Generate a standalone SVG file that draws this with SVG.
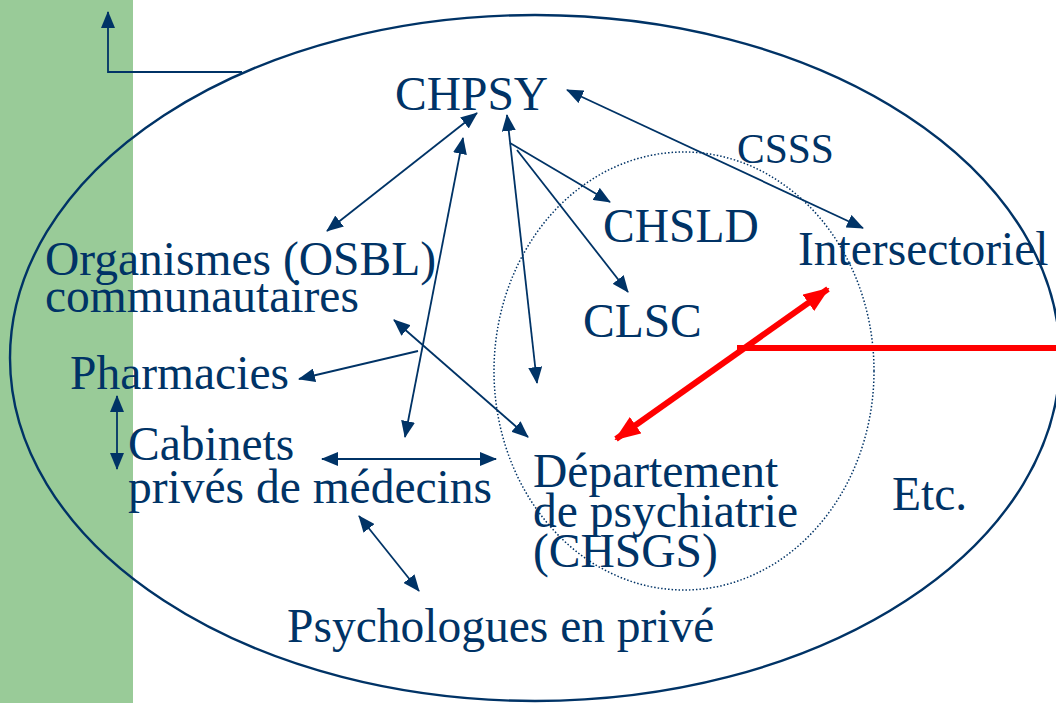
<svg xmlns="http://www.w3.org/2000/svg" width="1056" height="703" viewBox="0 0 1056 703">
<defs>
<marker id="ab" markerUnits="userSpaceOnUse" markerWidth="17" markerHeight="14" refX="16" refY="7" orient="auto-start-reverse"><path d="M0,0 L17,7 L0,14 z" fill="#003366"/></marker>
<marker id="ar" markerUnits="userSpaceOnUse" markerWidth="26" markerHeight="20" refX="24" refY="10" orient="auto-start-reverse"><path d="M0,0 L26,10 L0,20 z" fill="#FF0000"/></marker>
</defs>
<rect x="0" y="0" width="1056" height="703" fill="#FFFFFF"/>
<rect id="band" x="0" y="0" width="133" height="703" fill="#99CB98"/>
<ellipse id="outer" cx="535" cy="358" rx="525" ry="343" fill="none" stroke="#003366" stroke-width="2.4"/>
<ellipse id="csss-circle" cx="684" cy="371" rx="190" ry="219" fill="none" stroke="#003366" stroke-width="1.5" stroke-dasharray="1.5 2"/>
<g id="corner-arrow" stroke="#003366" stroke-width="1.8" fill="none">
<path d="M242,72 L108,72 L108,12" marker-end="url(#ab)"/>
</g>
<g id="n-chpsy"><text x="395" y="110" font-family="Liberation Serif" font-size="47.5" fill="#003366">CHPSY</text></g>
<g id="n-csss"><text x="737" y="163" font-family="Liberation Serif" font-size="41.5" fill="#003366">CSSS</text></g>
<g id="n-chsld"><text x="603" y="242" font-family="Liberation Serif" font-size="47.5" fill="#003366">CHSLD</text></g>
<g id="n-osbl"><text x="45" y="275" font-family="Liberation Serif" font-size="47.5" fill="#003366">Organismes (OSBL)</text><text x="45" y="312" font-family="Liberation Serif" font-size="47.5" fill="#003366">communautaires</text></g>
<g id="n-inter"><text x="798" y="265" font-family="Liberation Serif" font-size="47.5" fill="#003366">Intersectoriel</text></g>
<g id="n-clsc"><text x="583" y="337" font-family="Liberation Serif" font-size="47.5" fill="#003366">CLSC</text></g>
<g id="n-pharm"><text x="70" y="389" font-family="Liberation Serif" font-size="47.5" fill="#003366">Pharmacies</text></g>
<g id="n-cab"><text x="128" y="460" font-family="Liberation Serif" font-size="47.5" fill="#003366">Cabinets</text><text x="128" y="503" font-family="Liberation Serif" font-size="47.5" fill="#003366">privés de médecins</text></g>
<g id="n-dep"><text x="533" y="487" font-family="Liberation Serif" font-size="47.5" fill="#003366">Département</text><text x="533" y="527" font-family="Liberation Serif" font-size="47.5" fill="#003366">de psychiatrie</text><text x="533" y="567" font-family="Liberation Serif" font-size="47.5" fill="#003366">(CHSGS)</text></g>
<g id="n-etc"><text x="892" y="510" font-family="Liberation Serif" font-size="47.5" fill="#003366">Etc.</text></g>
<g id="n-psy"><text x="287" y="642" font-family="Liberation Serif" font-size="47.5" fill="#003366">Psychologues en privé</text></g>
<g id="connectors" stroke="#003366" stroke-width="1.8" fill="none">
<line x1="327" y1="231" x2="477" y2="113" marker-start="url(#ab)" marker-end="url(#ab)"/>
<line x1="405" y1="437" x2="463" y2="138" marker-start="url(#ab)" marker-end="url(#ab)"/>
<line x1="537" y1="383" x2="507" y2="115" marker-start="url(#ab)" marker-end="url(#ab)"/>
<line x1="510" y1="143" x2="610" y2="202" marker-end="url(#ab)"/>
<line x1="517" y1="150" x2="628" y2="292" marker-end="url(#ab)"/>
<line x1="567" y1="90" x2="863" y2="228" marker-start="url(#ab)" marker-end="url(#ab)"/>
<line x1="418" y1="351" x2="299" y2="379" marker-end="url(#ab)"/>
<line x1="394" y1="320" x2="528" y2="437" marker-start="url(#ab)" marker-end="url(#ab)"/>
<line x1="117" y1="396" x2="117" y2="469" marker-start="url(#ab)" marker-end="url(#ab)"/>
<line x1="322" y1="459" x2="496" y2="459" marker-start="url(#ab)" marker-end="url(#ab)"/>
<line x1="359" y1="516" x2="419" y2="591" marker-start="url(#ab)" marker-end="url(#ab)"/>
<line x1="616" y1="439" x2="828" y2="289" stroke="#FF0000" stroke-width="6" marker-start="url(#ar)" marker-end="url(#ar)"/>
<line x1="737" y1="348" x2="1056" y2="348" stroke="#FF0000" stroke-width="6"/>
</g>
</svg>
